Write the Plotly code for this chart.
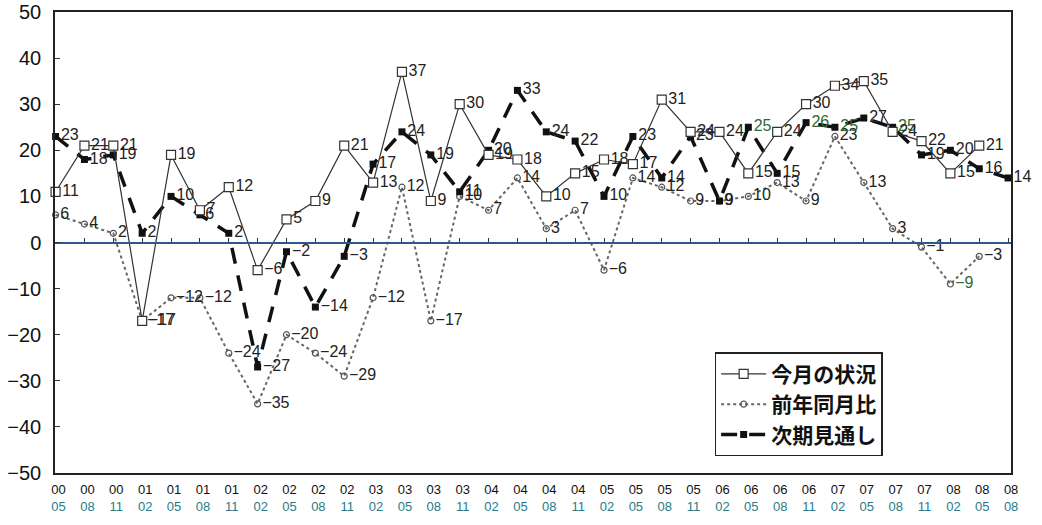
import plotly.graph_objects as go

# Survey periods (year / month)
years = ["00", "00", "00", "01", "01", "01", "01", "02", "02", "02", "02",
         "03", "03", "03", "03", "04", "04", "04", "04", "05", "05", "05",
         "05", "06", "06", "06", "06", "07", "07", "07", "07", "08", "08", "08"]
months = ["05", "08", "11", "02", "05", "08", "11", "02", "05", "08", "11",
          "02", "05", "08", "11", "02", "05", "08", "11", "02", "05", "08",
          "11", "02", "05", "08", "11", "02", "05", "08", "11", "02", "05", "08"]

# 今月の状況
current = [11, 21, 21, -17, 19, 7, 12, -6, 5, 9, 21, 13, 37, 9, 30, 19, 18,
           10, 15, 18, 17, 31, 24, 24, 15, 24, 30, 34, 35, 24, 22, 15, 21]
# 前年同月比
yoy = [6, 4, 2, -17, -12, -12, -24, -35, -20, -24, -29, -12, 12, -17, 10, 7,
       14, 3, 7, -6, 14, 12, 9, 9, 10, 13, 9, 23, 13, 3, -1, -9, -3]
# 次期見通し
outlook = [23, 18, 19, 2, 10, 6, 2, -27, -2, -14, -3, 17, 24, 19, 11, 20, 33,
           24, 22, 10, 23, 14, 23, 9, 25, 15, 26, 25, 27, 25, 19, 20, 16, 14]

# points whose value labels are printed in green
outlook_green = [24, 26, 27, 29]
yoy_green = [31]

LABEL = "#222222"
GREEN = "#2f6b2f"
TEAL = "#2a7a86"


def fmt(v):
    return str(v).replace("-", "\u2212")


def label_colors(n, green_idx):
    return [GREEN if i in green_idx else LABEL for i in range(n)]


fig = go.Figure()

fig.add_trace(go.Scatter(
    x=list(range(len(yoy))), y=yoy, name="前年同月比",
    mode="lines+markers+text",
    line=dict(color="#666666", width=2, dash="dot"),
    marker=dict(symbol="circle-open", size=6, color="#555555",
                line=dict(width=1.2)),
    text=[fmt(v) for v in yoy], textposition="middle right",
    textfont=dict(family="Liberation Sans", size=16,
                  color=label_colors(len(yoy), yoy_green)),
    cliponaxis=False, legendrank=2,
))

fig.add_trace(go.Scatter(
    x=list(range(len(outlook))), y=outlook, name="次期見通し",
    mode="lines+markers+text",
    line=dict(color="#111111", width=3.5, dash="16px,12px"),
    marker=dict(symbol="square", size=7, color="#111111"),
    text=[fmt(v) for v in outlook], textposition="middle right",
    textfont=dict(family="Liberation Sans", size=16,
                  color=label_colors(len(outlook), outlook_green)),
    cliponaxis=False, legendrank=3,
))

fig.add_trace(go.Scatter(
    x=list(range(len(current))), y=current, name="今月の状況",
    mode="lines+markers+text",
    line=dict(color="#333333", width=1.2),
    marker=dict(symbol="square", size=9, color="white",
                line=dict(color="#333333", width=1.2)),
    text=[fmt(v) for v in current], textposition="middle right",
    textfont=dict(family="Liberation Sans", size=16, color=LABEL),
    cliponaxis=False, legendrank=1,
))

# carrier for the zero-line axis with its tick marks
fig.add_trace(go.Scatter(x=[0], y=[None], xaxis="x2", showlegend=False,
                         hoverinfo="skip"))

ticktext = [f"{y}<br><span style='color:{TEAL}'>{m}</span>"
            for y, m in zip(years, months)]
xrange_ = [-0.02, 33.1]

fig.update_layout(
    width=1042, height=525,
    margin=dict(l=55, r=31, t=12, b=52, autoexpand=False),
    paper_bgcolor="white", plot_bgcolor="white",
    font=dict(family="Liberation Sans", color="#111111"),
    xaxis=dict(
        range=xrange_, tickmode="array",
        tickvals=list(range(len(years))), ticktext=ticktext,
        tickfont=dict(family="Liberation Sans", size=13, color="#111111"),
        ticks="", showgrid=False, zeroline=False, automargin=False,
        showline=True, linecolor="#222222", linewidth=1.5, mirror=True,
        ticklabelshift=3, ticklabelstandoff=4,
    ),
    xaxis2=dict(
        overlaying="x", anchor="free", position=0.5, side="bottom",
        range=xrange_, tickmode="array", tickvals=list(range(len(years))),
        showticklabels=False, ticks="inside", ticklen=4, tickwidth=1,
        tickcolor="#333333", showgrid=False, zeroline=False, automargin=False,
        showline=True, linecolor="#2b5a8a", linewidth=1.5,
    ),
    yaxis=dict(
        range=[-50, 50], dtick=10, tick0=0,
        ticks="inside", ticklen=5, tickcolor="#333333",
        tickfont=dict(family="Liberation Sans", size=20, color="#111111"),
        showgrid=False, zeroline=False, automargin=False,
        showline=True, linecolor="#222222", linewidth=1.5, mirror=True,
        ticklabelstandoff=8,
    ),
    legend=dict(
        x=0.69, y=0.262, xanchor="left", yanchor="top",
        bgcolor="white", bordercolor="#222222", borderwidth=1.5,
        font=dict(family="Noto Sans CJK JP", size=21, color="#111111",
                  weight="bold"),
        itemwidth=45, tracegroupgap=0,
    ),
    showlegend=True,
)

fig.write_html("out.html")
